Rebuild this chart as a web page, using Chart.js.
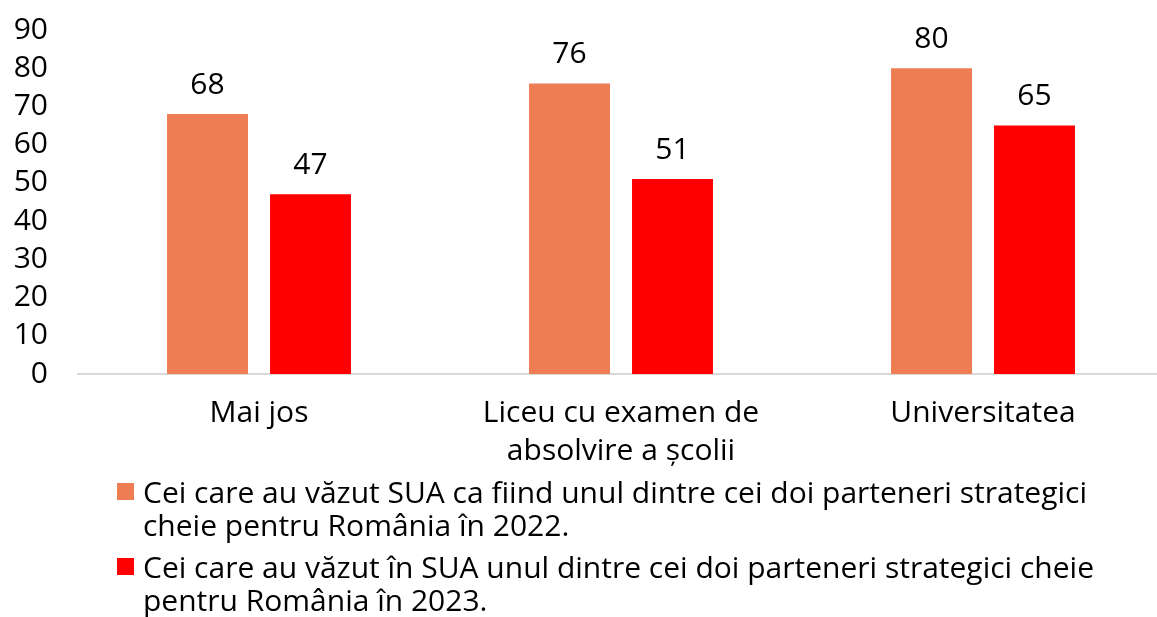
<!DOCTYPE html>
<html>
<head>
<meta charset="utf-8">
<script src="https://cdn.jsdelivr.net/npm/chart.js@4.4.1/dist/chart.umd.min.js"></script>
<style>
  html, body { margin: 0; padding: 0; background: #fff; overflow: hidden; }
  #wrap { position: relative; width: 1157px; height: 617px; overflow: hidden; }
  #c { position: absolute; left: 0; top: 0; }
  #legend { position: absolute; left: 117px; top: 475px; font-family: "Open Sans", sans-serif; font-size: 30px; color: #000; }
  .item { position: relative; padding-left: 26px; line-height: 33px; margin-bottom: 9px; white-space: nowrap; }
  .sw { position: absolute; left: 0; top: 8px; width: 17px; height: 17px; }
</style>
</head>
<body>
<div id="wrap">
  <canvas id="c" width="1164" height="617"></canvas>
  <div id="legend"></div>
</div>
<script>
const categories = ['Mai jos', ['Liceu cu examen de', 'absolvire a școlii'], 'Universitatea'];
const series2022 = [68, 76, 80];
const series2023 = [47, 51, 65];
const seriesNames = [
  ['Cei care au văzut SUA ca fiind unul dintre cei doi parteneri strategici', 'cheie pentru România în 2022.'],
  ['Cei care au văzut în SUA unul dintre cei doi parteneri strategici cheie', 'pentru România în 2023.']
];
const seriesColors = ['#EE7D53', '#FF0000'];
const yTicks = [0, 10, 20, 30, 40, 50, 60, 70, 80, 90];

const FONT = '"Open Sans", sans-serif';

const valueLabels = {
  id: 'valueLabels',
  afterDatasetsDraw(chart) {
    const ctx = chart.ctx;
    ctx.save();
    ctx.font = '30px ' + FONT;
    ctx.fillStyle = '#000';
    ctx.textAlign = 'center';
    ctx.textBaseline = 'middle';
    chart.data.datasets.forEach((ds, i) => {
      chart.getDatasetMeta(i).data.forEach((bar, j) => {
        ctx.fillText(String(ds.data[j]), bar.x, bar.y - 29);
      });
    });
    ctx.restore();
  }
};

new Chart(document.getElementById('c'), {
  type: 'bar',
  data: {
    labels: categories,
    datasets: [
      { label: seriesNames[0].join(' '), data: series2022, backgroundColor: seriesColors[0] },
      { label: seriesNames[1].join(' '), data: series2023, backgroundColor: seriesColors[1] }
    ]
  },
  options: {
    responsive: false,
    animation: false,
    devicePixelRatio: 1,
    layout: { padding: { top: 30, left: 0, right: 0, bottom: 0 } },
    datasets: { bar: { categoryPercentage: 0.569, barPercentage: 0.786 } },
    plugins: { legend: { display: false }, tooltip: { enabled: false } },
    scales: {
      x: {
        grid: { display: false, drawTicks: false },
        border: { display: true, color: '#D9D9D9', width: 2 },
        ticks: { color: '#000', font: { family: FONT, size: 30, lineHeight: 1.27 }, padding: 20, maxRotation: 0, autoSkip: false },
        afterFit(s) { s.height = 617 - 374; s.paddingLeft = 0; s.paddingRight = 0; }
      },
      y: {
        min: 0, max: 90,
        grid: { display: false, drawTicks: false },
        border: { display: false },
        afterBuildTicks(s) { s.ticks = yTicks.map(v => ({ value: v })); },
        ticks: { color: '#000', font: { family: FONT, size: 30 }, padding: 30, autoSkip: false },
        afterFit(s) { s.width = 78; s.paddingTop = 0; s.paddingBottom = 0; }
      }
    }
  },
  plugins: [valueLabels]
});

const legend = document.getElementById('legend');
seriesNames.forEach((lines, i) => {
  const item = document.createElement('div');
  item.className = 'item';
  const sw = document.createElement('span');
  sw.className = 'sw';
  sw.style.background = seriesColors[i];
  item.appendChild(sw);
  lines.forEach((t, k) => {
    if (k) item.appendChild(document.createElement('br'));
    item.appendChild(document.createTextNode(t));
  });
  legend.appendChild(item);
});
</script>
</body>
</html>
